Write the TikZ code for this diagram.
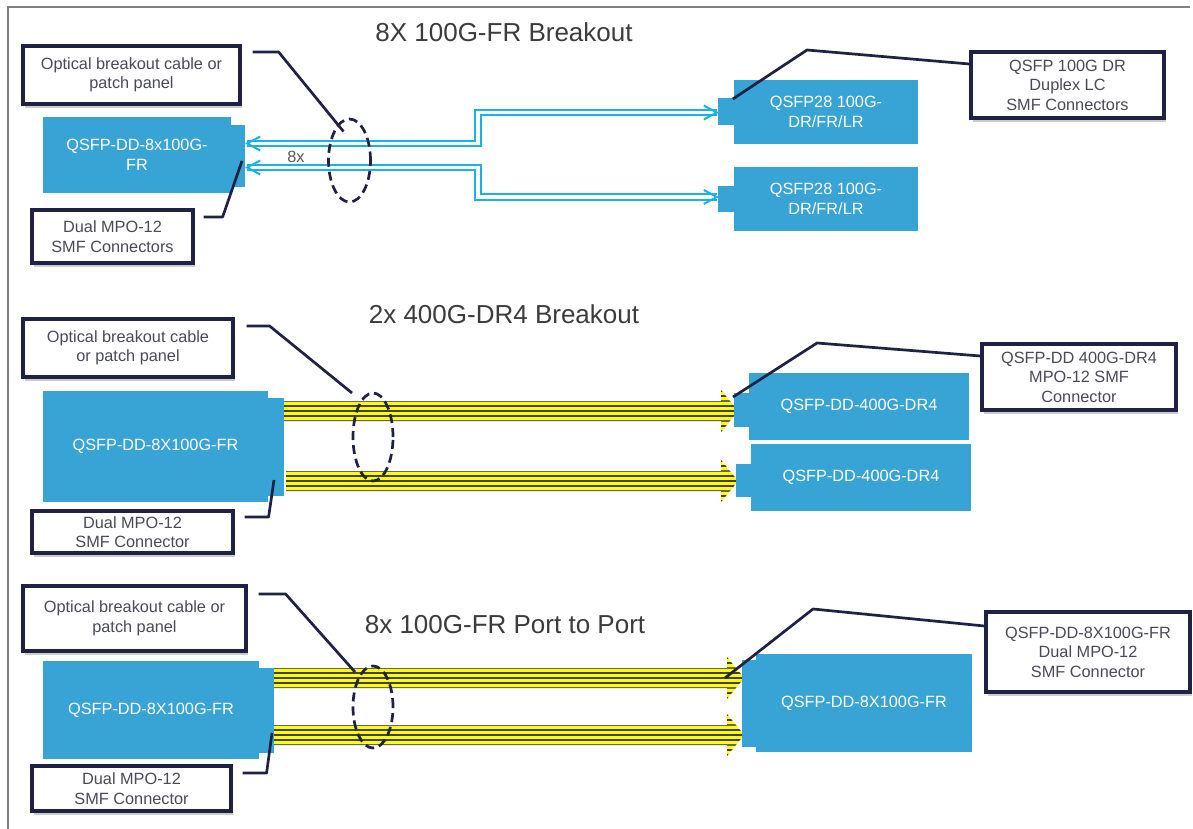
\documentclass[tikz,border=0pt]{standalone}
\usepackage{fontspec}
\setmainfont{Liberation Sans}
\usetikzlibrary{calc,shapes.geometric,shadows}
\definecolor{qblue}{HTML}{38A3D5}
\definecolor{navy}{HTML}{1F2245}
\definecolor{cyanc}{HTML}{1AB2E3}
\definecolor{lbltxt}{HTML}{4A4A58}
\definecolor{ttl}{HTML}{3C3C3C}
\definecolor{stripec}{HTML}{404040}
\definecolor{frm}{HTML}{808080}
\definecolor{ylw}{HTML}{FFFF00}
\tikzset{
 lbl/.style={draw=navy, line width=3.2pt, fill=white, align=center, text=lbltxt, font=\fontsize{16.3}{19.5}\selectfont, inner sep=0pt, drop shadow={shadow xshift=2pt, shadow yshift=-4pt, opacity=0.2, fill=black}},
 modbox/.style={fill=qblue, inner sep=0pt, align=center, text=white, font=\fontsize{16.3}{19.5}\selectfont},
 tabbox/.style={fill=qblue, inner sep=0pt},
 ttlnode/.style={text=ttl, font=\fontsize{26}{30}\selectfont, inner sep=0pt},
 leader/.style={draw=navy, line width=2.7pt, line join=round},
 bundle/.style={draw=navy, line width=2.7pt, dash pattern=on 9pt off 5pt, ellipse, inner sep=0pt},
 pipe/.style={draw=cyanc, line width=2pt, double=white, double distance=3.5pt},
 chev/.style={draw=cyanc, line width=2pt},
}
\newcommand{\ybarrow}[2]{%
 \begin{scope}
  \clip ($(#1)+(0,-10)$) -- ($(#2)+(-17,-10)$) -- ($(#2)+(-17,-21)$) -- (#2) -- ($(#2)+(-17,21)$) -- ($(#2)+(-17,10)$) -- ($(#1)+(0,10)$) -- cycle;
  \fill[ylw] ($(#1)+(0,-22)$) rectangle ($(#2)+(0,22)$);
  \foreach \d in {-20,-15,-5,0,5,15,20} \draw[stripec, line width=1.2pt] ($(#1)+(0,\d)$) -- ($(#2)+(0,\d)$);
  \foreach \d in {-10,10} \draw[stripec!80, line width=2pt] ($(#1)+(0,\d)$) -- ($(#2)+(0,\d)$);
 \end{scope}}
\begin{document}
\begin{tikzpicture}[x=1pt,y=-1pt]
\useasboundingbox (0,0) rectangle (1193,829);
\fill[white] (0,0) rectangle (1193,829);
\draw[frm, line width=2pt] (8,829) -- (8,7) -- (1190,7);

% ---------- Section 1 ----------
\node[ttlnode] (t1) at (504,32) {8X 100G-FR Breakout};
\node[modbox, minimum width=188, minimum height=76] (m1) at (137,155) {QSFP-DD-8x100G-\\FR};
\node[tabbox, minimum width=14, minimum height=62] (m1tab) at (238,156) {};
\node[modbox, minimum width=184, minimum height=64] (q28a) at (826,112) {QSFP28 100G-\\DR/FR/LR};
\node[tabbox, minimum width=16, minimum height=27] (q28atab) at (726,111.5) {};
\node[modbox, minimum width=184, minimum height=64] (q28b) at (826,199) {QSFP28 100G-\\DR/FR/LR};
\node[tabbox, minimum width=16, minimum height=26] (q28btab) at (726,199) {};

\coordinate (c1s) at ($(m1tab.east)+(2,-12.5)$);
\coordinate (c2s) at ($(m1tab.east)+(2,11.5)$);
\coordinate (c1e) at ($(q28atab.west)+(-1,1)$);
\coordinate (c2e) at ($(q28btab.west)+(-1,-2)$);
\draw[pipe] (c1s) -- ++(231,0) |- (c1e);
\draw[pipe] (c2s) -- ++(231,0) |- (c2e);
\draw[chev] ($(c1s)+(13,-7)$) -- (c1s) -- ($(c1s)+(13,7)$);
\draw[chev] ($(c2s)+(13,-7)$) -- (c2s) -- ($(c2s)+(13,7)$);
\draw[chev] ($(c1e)+(-13,-7)$) -- (c1e) -- ($(c1e)+(-13,7)$);
\draw[chev] ($(c2e)+(-13,-7)$) -- (c2e) -- ($(c2e)+(-13,7)$);
\node[text=ttl!85, font=\fontsize{16.3}{19.5}\selectfont, inner sep=0pt] (n8x) at (296,157) {8x};

\node[bundle, minimum width=42, minimum height=83] (e1) at (349.5,160.5) {};

\node[lbl, minimum width=217, minimum height=58] (lbl1a) at (131.5,75) {Optical breakout cable or\\patch panel};
\node[lbl, minimum width=161, minimum height=53] (lbl1b) at (112.5,236.5) {Dual MPO-12\\SMF Connectors};
\node[lbl, minimum width=193, minimum height=66] (lbl1c) at (1067.5,85) {QSFP 100G DR\\Duplex LC\\SMF Connectors};

\draw[leader] ($(lbl1a.east)+(11,-23)$) -- ++(26,0) -- ($(e1.center)+(-6,-29)$);
\draw[leader] ($(lbl1b.east)+(9,-19.5)$) -- ++(19,0) -- ($(m1tab.center)+(4,5)$);
\draw[leader] ($(lbl1c.west)+(0,-21)$) -- (807,50) -- ($(q28a.west)+(-1,-13)$);

% ---------- Section 2 ----------
\node[ttlnode] (t2) at (504,314) {2x 400G-DR4 Breakout};
\node[modbox, minimum width=225, minimum height=111] (m2) at (155.5,446.5) {QSFP-DD-8X100G-FR};
\node[tabbox, minimum width=16, minimum height=98] (m2tab) at (276,447) {};

\coordinate (y2as) at ($(m2tab.east)+(0,-36)$);
\coordinate (y2bs) at ($(m2tab.east)+(2,34)$);
\coordinate (y2ae) at (738,411);
\coordinate (y2be) at (738,481);
\ybarrow{y2as}{y2ae}
\ybarrow{y2bs}{y2be}

\node[modbox, minimum width=220, minimum height=67] (d1) at (859,406.5) {QSFP-DD-400G-DR4};
\node[tabbox, minimum width=15, minimum height=34] (d1tab) at (741.5,410) {};
\node[modbox, minimum width=220, minimum height=67] (d2) at (861,477.5) {QSFP-DD-400G-DR4};
\node[tabbox, minimum width=15, minimum height=33] (d2tab) at (743.5,480.5) {};

\node[bundle, minimum width=40, minimum height=88] (e2) at (373,437) {};

\node[lbl, minimum width=210, minimum height=58] (lbl2a) at (128,348) {Optical breakout cable\\or patch panel};
\node[lbl, minimum width=201, minimum height=42] (lbl2b) at (132.5,532) {Dual MPO-12\\SMF Connector};
\node[lbl, minimum width=194, minimum height=66] (lbl2c) at (1079,377) {QSFP-DD 400G-DR4\\MPO-12 SMF\\Connector};

\draw[leader] ($(lbl2a.east)+(12,-22)$) -- ++(23,0) -- ($(e2.center)+(-21,-44)$);
\draw[leader] ($(lbl2b.east)+(10,-15)$) -- ++(24,0) -- ($(m2tab.center)+(-2,33)$);
\draw[leader] ($(lbl2c.west)+(0,-21)$) -- (817,343) -- ($(d1tab.center)+(-8.5,-13)$);

% ---------- Section 3 ----------
\node[ttlnode] (t3) at (505,625) {8x 100G-FR Port to Port};
\node[modbox, minimum width=216, minimum height=98] (m3) at (151,710) {QSFP-DD-8X100G-FR};
\node[tabbox, minimum width=15, minimum height=85] (m3tab) at (266.5,710.5) {};

\coordinate (y3as) at ($(m3tab.east)+(0,-32.5)$);
\coordinate (y3bs) at ($(m3tab.east)+(0,24.5)$);
\coordinate (y3ae) at (744,678);
\coordinate (y3be) at (744,735);
\ybarrow{y3as}{y3ae}
\ybarrow{y3bs}{y3be}

\node[modbox, minimum width=216, minimum height=98] (r3) at (864,703) {QSFP-DD-8X100G-FR};
\node[tabbox, minimum width=14, minimum height=87] (r3tab) at (749,703.5) {};

\node[bundle, minimum width=40, minimum height=82] (e3) at (373,707) {};

\node[lbl, minimum width=223, minimum height=65] (lbl3a) at (134.5,618.5) {Optical breakout cable or\\patch panel};
\node[lbl, minimum width=199, minimum height=45] (lbl3b) at (131.5,788.5) {Dual MPO-12\\SMF Connector};
\node[lbl, minimum width=204, minimum height=80] (lbl3c) at (1088,652) {QSFP-DD-8X100G-FR\\Dual MPO-12\\SMF Connector};

\draw[leader] ($(lbl3a.east)+(11,-24.5)$) -- ++(27,0) -- ($(e3.center)+(-18,-35)$);
\draw[leader] ($(lbl3b.east)+(10,-15.5)$) -- ++(24,0) -- ($(m3tab.center)+(5.5,22.5)$);
\draw[leader] ($(lbl3c.west)+(0,-26)$) -- (813,609) -- ($(r3tab.center)+(-24,-25.5)$);
\end{tikzpicture}
\end{document}
